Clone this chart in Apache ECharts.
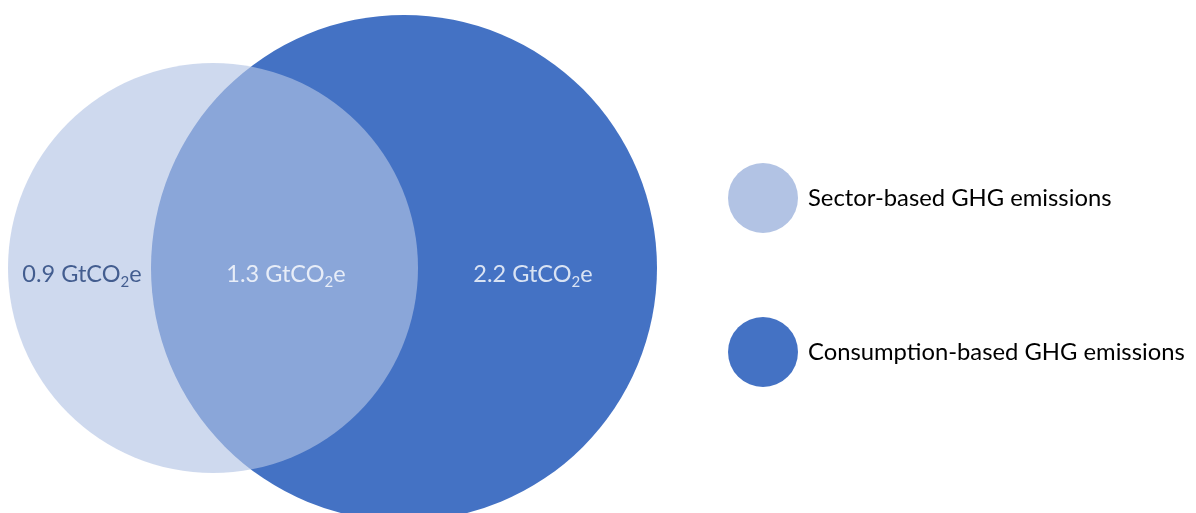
<!DOCTYPE html>
<html>
<head>
<meta charset="utf-8">
<script src="https://cdn.jsdelivr.net/npm/echarts@6/dist/echarts.min.js"></script>
<style>html,body{margin:0;padding:0;background:#fff;}#c{width:1196px;height:513px;}</style>
</head>
<body>
<div id="c"></div>
<script>
// Series names (legend)
var seriesNames = ['Consumption-based GHG emissions', 'Sector-based GHG emissions'];
// Circles in chart units: [centerX, centerY, radius]
var consumptionCircle = [4.04, 2.68, 2.53];
var sectorCircle = [2.13, 2.68, 2.05];
// Region values (GtCO2e) and label anchor points
var regionValues = [0.9, 1.3, 2.2];
var regionLabelX = [0.82, 2.86, 5.33];
var regionLabelY = [2.74, 2.74, 2.74];

var colors = { consumption: '#4472C4', sector: '#B2C3E4' };

function circleItem(params, api) {
  var c = api.coord([api.value(0), api.value(1)]);
  var r = api.size([api.value(2), 0])[0];
  return {
    type: 'circle',
    shape: { cx: c[0], cy: c[1], r: r },
    style: api.style()
  };
}

var chart = echarts.init(document.getElementById('c'), null, { renderer: 'canvas' });
var labelData = regionValues.map(function (v, i) { return [regionLabelX[i], regionLabelY[i], v]; });
chart.setOption({
  animation: false,
  grid: { left: 0, top: 0, width: 1196, height: 513 },
  xAxis: { type: 'value', min: 0, max: 11.96, show: false },
  yAxis: { type: 'value', min: 0, max: 5.13, inverse: true, show: false },
  legend: {
    orient: 'vertical', left: 723, top: 158, itemWidth: 70, itemHeight: 70, itemGap: 84,
    icon: 'circle',
    textStyle: { fontFamily: 'Lato', fontSize: 23.8, color: '#000', padding: [0, 0, 0, 5] },
    data: [
      { name: seriesNames[1], itemStyle: { color: colors.sector, opacity: 1 } },
      { name: seriesNames[0], itemStyle: { color: colors.consumption, opacity: 1 } }
    ]
  },
  series: [
    {
      name: seriesNames[0], type: 'custom', renderItem: circleItem, clip: false,
      itemStyle: { color: colors.consumption },
      data: [consumptionCircle], silent: true
    },
    {
      name: seriesNames[1], type: 'custom', renderItem: circleItem, clip: false,
      itemStyle: { color: colors.sector, opacity: 0.64 },
      data: [sectorCircle], silent: true
    },
    {
      name: 'labels', type: 'scatter', symbolSize: 0, silent: true,
      data: labelData.map(function (d, i) {
        return {
          value: d,
          label: {
            show: true, position: 'inside',
            formatter: function (p) { return '{n|' + p.value[2].toFixed(1) + ' GtCO}{s|2}{n|e}'; },
            rich: {
              n: { fontFamily: 'Lato', fontSize: 23.5, color: i === 0 ? '#213F78' : '#ffffff' },
              s: { fontFamily: 'Lato', fontSize: 15, color: i === 0 ? '#213F78' : '#ffffff', padding: [16, 0, 0, 0] }
            }
          }
        };
      })
    }
  ]
});
</script>
</body>
</html>
